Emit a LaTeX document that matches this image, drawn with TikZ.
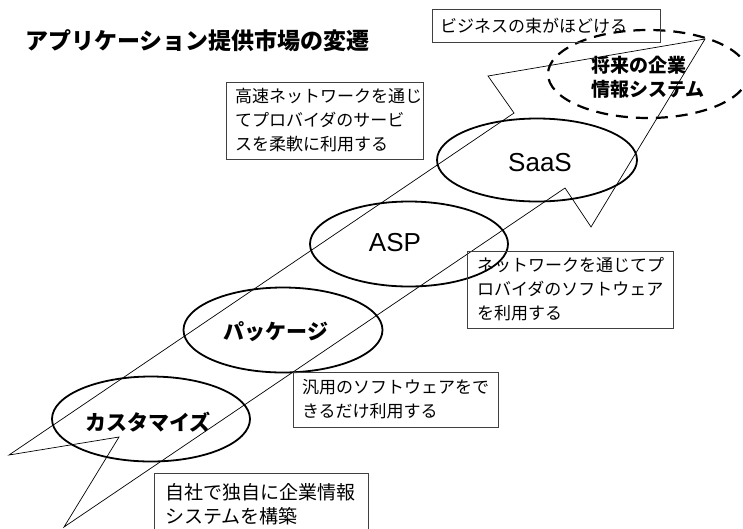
\documentclass[tikz,border=0pt]{standalone}
\usepackage{fontspec}
\setmainfont{Noto Sans CJK JP}
\newfontfamily\lat{Liberation Sans}
\usetikzlibrary{shapes.geometric}
\begin{document}
\begin{tikzpicture}[x=1pt,y=-1pt,
  zig/.style={draw=black, line width=0.7pt, line join=miter},
  ell/.style={draw, ellipse, line width=1.8pt, inner sep=0pt, outer sep=0pt},
  dell/.style={draw, ellipse, line width=2.2pt, dash pattern=on 12pt off 8pt, inner sep=0pt, outer sep=0pt},
  box/.style={draw=black!75, line width=0.8pt, rectangle, anchor=north west, align=left, inner ysep=0pt, outer sep=0pt, font=\fontsize{17}{24}\selectfont},
  lbl/.style={font=\bfseries\fontsize{21}{24}\selectfont, inner sep=0pt},
  latlbl/.style={font=\lat\fontsize{26}{28}\selectfont, inner sep=0pt},
]
\useasboundingbox (0,0) rectangle (743,528);

% title
\node[anchor=west, inner sep=0pt, font=\bfseries\fontsize{23}{26}\selectfont] (title) at (25,41) {アプリケーション提供市場の変遷};

% ellipses
\node[ell, minimum width=198pt, minimum height=85pt] (e1) at (151,419) {};
\node[ell, minimum width=199pt, minimum height=85pt] (e2) at (283,330) {};
\node[ell, minimum width=198pt, minimum height=85pt] (e3) at (409,244) {};
\node[ell, minimum width=200pt, minimum height=83pt] (e4) at (537,160) {};
\node[dell, minimum width=200pt, minimum height=88pt] (e5) at (648,74) {};

% zigzag arrow
\coordinate (z1) at (9,455);
\coordinate (z2) at (514,113);
\coordinate (z3) at (488,76);
\coordinate (z4) at (705,39);
\coordinate (z5) at (591,227);
\coordinate (z6) at (565,188);
\coordinate (z7) at (64,527);
\coordinate (z8) at (119,437);
\draw[zig] (z1) -- (z2) -- (z3) -- (z4) -- (z5) -- (z6) -- (z7) -- (z8) -- cycle;

% ellipse labels
\node[lbl] (l1) at (148,422) {カスタマイズ};
\node[lbl] (l2) at (276,332) {パッケージ};
\node[latlbl] (l3) at (395,243) {ASP};
\node[latlbl] (l4) at (540,163) {SaaS};
\node[anchor=west, align=left, inner sep=0pt, font=\bfseries\fontsize{19}{24}\selectfont] (l5) at (591,77) {将来の企業\\情報システム};

% boxes
\node[box, inner xsep=8pt, text width=212pt, minimum height=33pt] (b1) at (432,9) {ビジネスの束がほどける};
\node[box, inner xsep=9pt, text width=179pt, minimum height=77pt] (b2) at (226,82) {高速ネットワークを通じ\\てプロバイダのサービ\\スを柔軟に利用する};
\node[box, inner xsep=10pt, text width=186pt, minimum height=77pt] (b3) at (467,251) {ネットワークを通じてプ\\ロバイダのソフトウェア\\を利用する};
\node[box, inner xsep=9pt, text width=187pt, minimum height=55pt] (b4) at (293,372) {汎用のソフトウェアをで\\きるだけ利用する};
\node[box, inner xsep=11pt, text width=192pt, minimum height=62pt, font=\fontsize{19}{24}\selectfont] (b5) at (154,473) {自社で独自に企業情報\\システムを構築};
\end{tikzpicture}
\end{document}
